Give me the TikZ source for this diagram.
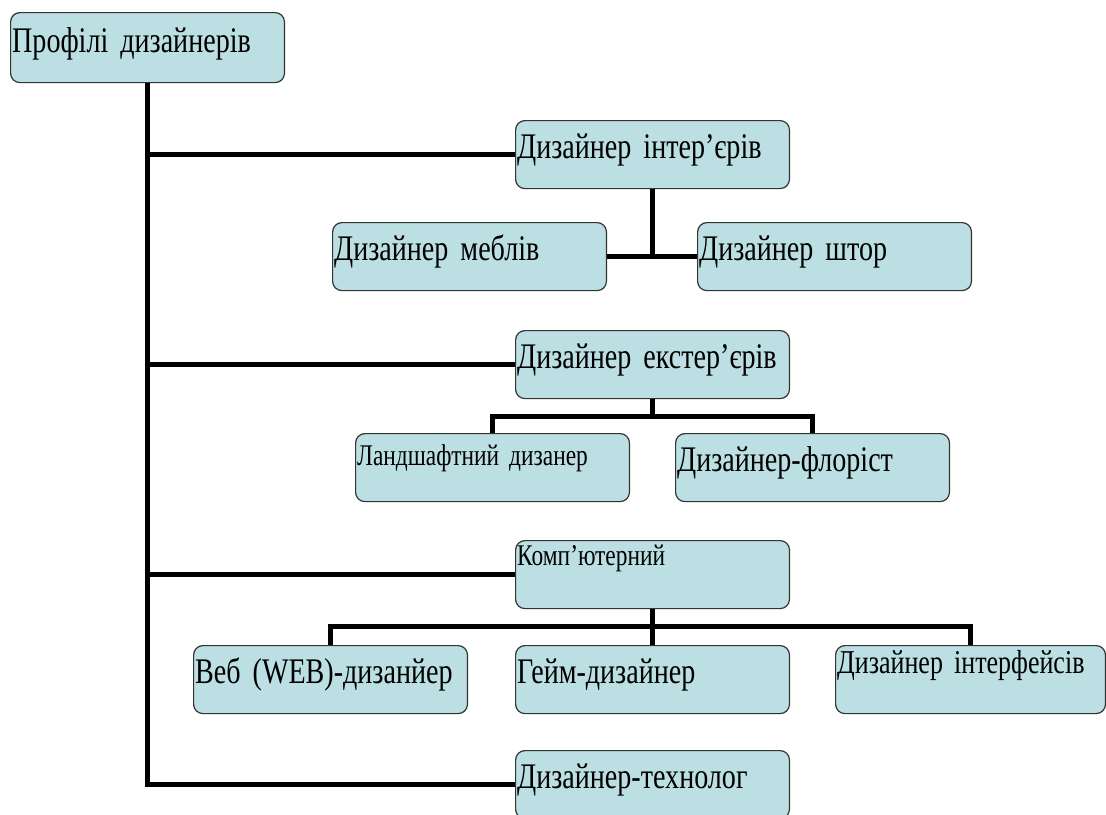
\documentclass[tikz,border=0pt]{standalone}
\usepackage{fontspec}
\setmainfont{Liberation Serif}[FakeStretch=0.78]
\definecolor{boxblue}{RGB}{187,223,227}
\newcommand\profbig{\fontsize{27}{30}\selectfont\spaceskip=0.12em\relax}
\newcommand\profsmall{\fontsize{22.5}{25}\selectfont\spaceskip=0.12em\relax}
\newcommand\profui{\fontsize{25}{28}\selectfont\spaceskip=0.1em\relax}
\tikzset{
  prof/.style={draw=black!80,line width=0.9pt,fill=boxblue,rounded corners=7pt,
    anchor=north west,inner xsep=1.2pt,inner ysep=0pt,text width=203pt,
    text height=28.5pt,text depth=22.5pt,font=\profbig},
  small/.style={font=\profsmall,text height=22.5pt,text depth=28.5pt},
  conn/.style={line width=3.6pt}
}
\begin{document}
\begin{tikzpicture}[x=0.75pt,y=-0.75pt]
\useasboundingbox (0,0) rectangle (1106,814);
% boxes
\node[prof,text height=30pt,text depth=22.5pt] (root) at (10,12) {Профілі дизайнерів};
\node[prof] (int) at (515,120) {Дизайнер інтер’єрів};
\node[prof] (furn) at (332,222) {Дизайнер меблів};
\node[prof] (curt) at (697,222) {Дизайнер штор};
\node[prof] (ext) at (515,330) {Дизайнер екстер’єрів};
\node[prof,small,text height=24pt,text depth=27pt] (land) at (355,433) {Ландшафтний дизанер};
\node[prof] (flor) at (675,433) {Дизайнер-флоріст};
\node[prof,small,text height=19pt,text depth=32pt] (comp) at (515,540) {Комп’ютерний};
\node[prof] (web) at (193,645) {Веб (WEB)-дизанйер};
\node[prof] (game) at (515,645) {Гейм-дизайнер};
\node[prof,small,font=\profui,text width=200pt,text height=21pt,text depth=30pt] (ui) at (835,645) {Дизайнер інтерфейсів};
\node[prof] (tech) at (515,750) {Дизайнер-технолог};
% trunk
\draw[conn] (root.south) |- (tech.west);
\draw[conn] (root.south |- int.west) -- (int.west);
\draw[conn] (root.south |- ext.west) -- (ext.west);
\draw[conn] (root.south |- comp.west) -- (comp.west);
% branches
\draw[conn] (int.south) |- (furn.east);
\draw[conn] (int.south) |- (curt.west);
\draw[conn] (ext.south) -- ++(0,17) coordinate (extbus);
\draw[conn] (land.north) |- (extbus) -| (flor.north);
\draw[conn] (comp.south) -- ++(0,17) coordinate (compbus);
\draw[conn] (web.north) |- (compbus) -| (ui.north);
\draw[conn] (compbus) -- (game.north);
\end{tikzpicture}
\end{document}
